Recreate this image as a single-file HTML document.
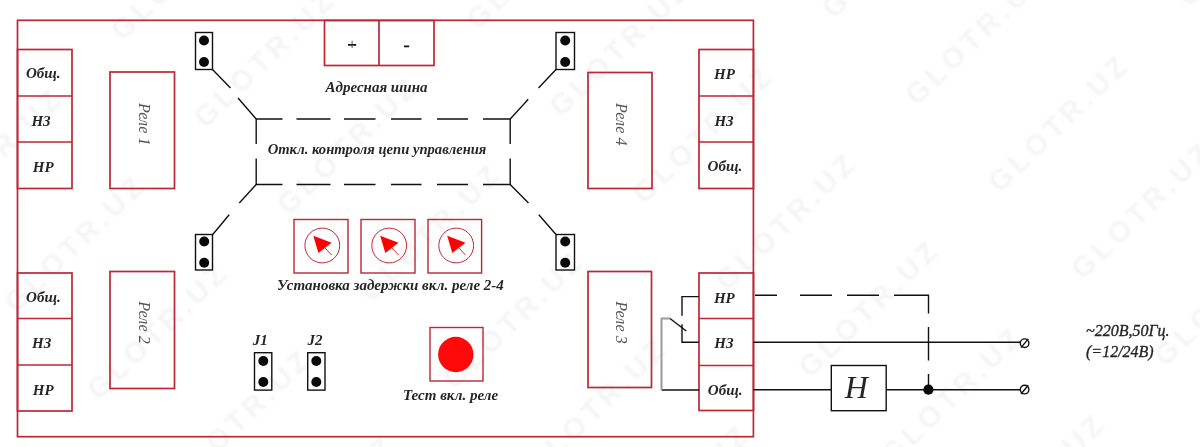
<!DOCTYPE html>
<html><head><meta charset="utf-8">
<style>
html,body{margin:0;padding:0;background:#fff;width:1200px;height:447px;overflow:hidden}
svg{display:block;filter:blur(0.45px)}
text{font-family:"Liberation Serif",serif;font-style:italic;fill:#262626}
.b{font-weight:bold}
.rl{fill:#555}
.wm text{font-family:"Liberation Sans",sans-serif;font-style:normal;font-weight:bold;font-size:29px;letter-spacing:4.5px;fill:#000;fill-opacity:0.045}
.r{fill:none;stroke:#bc2636;stroke-width:1.7}
.k{fill:none;stroke:#111;stroke-width:1.4}
</style></head><body>
<svg width="1200" height="447" viewBox="0 0 1200 447">
<defs><filter id="wb" x="-5%" y="-5%" width="110%" height="110%"><feGaussianBlur stdDeviation="0.8"/></filter></defs>
<g class="wm" filter="url(#wb)">
<text transform="translate(-149.2,125.0) rotate(-44)" x="-11.3" y="10.4">GLOTR.UZ</text>
<text transform="translate(123.4,26.8) rotate(-44)" x="-11.3" y="10.4">GLOTR.UZ</text>
<text transform="translate(-66.2,212.0) rotate(-44)" x="-11.3" y="10.4">GLOTR.UZ</text>
<text transform="translate(206.4,113.8) rotate(-44)" x="-11.3" y="10.4">GLOTR.UZ</text>
<text transform="translate(16.8,299.0) rotate(-44)" x="-11.3" y="10.4">GLOTR.UZ</text>
<text transform="translate(479.0,15.6) rotate(-44)" x="-11.3" y="10.4">GLOTR.UZ</text>
<text transform="translate(289.4,200.8) rotate(-44)" x="-11.3" y="10.4">GLOTR.UZ</text>
<text transform="translate(99.8,386.0) rotate(-44)" x="-11.3" y="10.4">GLOTR.UZ</text>
<text transform="translate(-89.8,571.2) rotate(-44)" x="-11.3" y="10.4">GLOTR.UZ</text>
<text transform="translate(562.0,102.6) rotate(-44)" x="-11.3" y="10.4">GLOTR.UZ</text>
<text transform="translate(372.4,287.8) rotate(-44)" x="-11.3" y="10.4">GLOTR.UZ</text>
<text transform="translate(182.8,473.0) rotate(-44)" x="-11.3" y="10.4">GLOTR.UZ</text>
<text transform="translate(834.6,4.4) rotate(-44)" x="-11.3" y="10.4">GLOTR.UZ</text>
<text transform="translate(645.0,189.6) rotate(-44)" x="-11.3" y="10.4">GLOTR.UZ</text>
<text transform="translate(455.4,374.8) rotate(-44)" x="-11.3" y="10.4">GLOTR.UZ</text>
<text transform="translate(265.8,560.0) rotate(-44)" x="-11.3" y="10.4">GLOTR.UZ</text>
<text transform="translate(917.6,91.4) rotate(-44)" x="-11.3" y="10.4">GLOTR.UZ</text>
<text transform="translate(728.0,276.6) rotate(-44)" x="-11.3" y="10.4">GLOTR.UZ</text>
<text transform="translate(538.4,461.8) rotate(-44)" x="-11.3" y="10.4">GLOTR.UZ</text>
<text transform="translate(1190.2,-6.8) rotate(-44)" x="-11.3" y="10.4">GLOTR.UZ</text>
<text transform="translate(1000.6,178.4) rotate(-44)" x="-11.3" y="10.4">GLOTR.UZ</text>
<text transform="translate(811.0,363.6) rotate(-44)" x="-11.3" y="10.4">GLOTR.UZ</text>
<text transform="translate(621.4,548.8) rotate(-44)" x="-11.3" y="10.4">GLOTR.UZ</text>
<text transform="translate(1083.6,265.4) rotate(-44)" x="-11.3" y="10.4">GLOTR.UZ</text>
<text transform="translate(894.0,450.6) rotate(-44)" x="-11.3" y="10.4">GLOTR.UZ</text>
<text transform="translate(1166.6,352.4) rotate(-44)" x="-11.3" y="10.4">GLOTR.UZ</text>
<text transform="translate(977.0,537.6) rotate(-44)" x="-11.3" y="10.4">GLOTR.UZ</text>
</g>
<!-- outer board -->
<rect class="r" x="17.5" y="20.3" width="735.9" height="416.4"/>
<!-- left terminals top -->
<rect class="r" x="17.5" y="49.5" width="54.5" height="139"/>
<line class="r" x1="17.5" y1="96" x2="72" y2="96"/>
<line class="r" x1="17.5" y1="142" x2="72" y2="142"/>
<!-- left terminals bottom -->
<rect class="r" x="17.5" y="273" width="54.5" height="138"/>
<line class="r" x1="17.5" y1="318.5" x2="72" y2="318.5"/>
<line class="r" x1="17.5" y1="365" x2="72" y2="365"/>
<!-- right terminals top -->
<rect class="r" x="699" y="49.5" width="54.5" height="139"/>
<line class="r" x1="699" y1="96" x2="753.5" y2="96"/>
<line class="r" x1="699" y1="142" x2="753.5" y2="142"/>
<!-- right terminals bottom -->
<rect class="r" x="699" y="273" width="54.5" height="137.5"/>
<line class="r" x1="699" y1="318.5" x2="753.5" y2="318.5"/>
<line class="r" x1="699" y1="365.5" x2="753.5" y2="365.5"/>
<!-- relays -->
<rect class="r" x="110" y="72" width="64.5" height="116.5"/>
<rect class="r" x="110" y="271.5" width="64.5" height="117"/>
<rect class="r" x="588" y="72.5" width="64" height="116"/>
<rect class="r" x="588" y="271.5" width="63.5" height="116"/>
<!-- +/- -->
<rect class="r" x="324.5" y="20.5" width="109.5" height="45"/>
<line class="r" x1="379" y1="20.5" x2="379" y2="65.5"/>
<!-- pots -->
<rect class="r" x="294" y="219.5" width="54" height="53.5" style="stroke-width:1.4"/>
<rect class="r" x="361" y="219.5" width="54" height="53.5" style="stroke-width:1.4"/>
<rect class="r" x="428" y="219.5" width="53.6" height="53.5" style="stroke-width:1.4"/>
<!-- test -->
<rect class="r" x="430" y="327.5" width="53" height="53.5" style="stroke-width:1.4"/>
<circle cx="455.8" cy="354.5" r="17.7" fill="#ff0a0a"/>
<!-- jumpers -->
<g class="k">
<rect x="195.5" y="32.5" width="17" height="37"/>
<rect x="556" y="32.5" width="18.5" height="37"/>
<rect x="195.5" y="234.5" width="17" height="35.5"/>
<rect x="556" y="234.5" width="18.5" height="35.5"/>
<rect x="254.5" y="352.7" width="17.3" height="37.4"/>
<rect x="307.7" y="352.7" width="17.3" height="37.4"/>
</g>
<g fill="#0a0a0a">
<circle cx="204" cy="40.5" r="5"/><circle cx="204" cy="62" r="5"/>
<circle cx="565.2" cy="40.5" r="5"/><circle cx="565.2" cy="62" r="5"/>
<circle cx="204.2" cy="241.5" r="5"/><circle cx="204.2" cy="262.8" r="5"/>
<circle cx="565.2" cy="241.5" r="5"/><circle cx="565.2" cy="262.8" r="5"/>
<circle cx="263.3" cy="361" r="5"/><circle cx="263.3" cy="382" r="5"/>
<circle cx="316.3" cy="361" r="5"/><circle cx="316.3" cy="382" r="5"/>
</g>
<!-- dashed control rect -->
<g class="k">
<path d="M256.2 144V119H282.5M296.5 119H330.5M344 119H375.5M391 119H421.5M437 119H468M483 119H510.2V144"/>
<path d="M256.2 158.5V184.5H282.5M296.5 184.5H330.5M344 184.5H375.5M391 184.5H421.5M437 184.5H468M483 184.5H510.2V158.5"/>
<path d="M212.5 69.5L230.5 88M238 98L256.2 119"/>
<path d="M556 69.5L538.5 88M528.2 99.3L510.2 119"/>
<path d="M212.7 234.5L229.2 214.7M239.3 203L256.2 184.5"/>
<path d="M556 234.5L538.8 214.7M528.5 203L510.2 184.5"/>
</g>
<!-- pots -->
<g>
<circle cx="322.3" cy="245.5" r="17.4" fill="none" stroke="#bc2636" stroke-width="1"/>
<circle cx="389.2" cy="245.5" r="17.4" fill="none" stroke="#bc2636" stroke-width="1"/>
<circle cx="456.2" cy="245.5" r="17.4" fill="none" stroke="#bc2636" stroke-width="1"/>
<g id="arr"><path d="M313.3 235.8L331.6 242.7L318.4 253.1Z" fill="#f00"/><path d="M325 248L331.6 255" stroke="#e02030" stroke-width="1"/></g>
<use href="#arr" x="66.9"/>
<use href="#arr" x="133.9"/>
</g>
<!-- relay contact wiring -->
<g class="k">
<path d="M699 296.6H682V315.8"/>
<path d="M699 342.2H682V324.2"/>
<path d="M670 318.5L686.3 331"/>
<path d="M699 390H661.5"/>
<path d="M753.5 342.2H1020"/>
<path d="M753.5 389.7H831.3M886.2 389.7H1020"/>
<rect x="831.3" y="365.5" width="54.9" height="45.2"/>
<path d="M755 295.2H777M800 295.2H832M847 295.2H879M894 295.2H928.5V313.6M928.5 327V360.6M928.5 374V390"/>
<circle cx="1024.6" cy="343.2" r="4.3"/>
<circle cx="1024.6" cy="389.6" r="4.3"/>
<path d="M1021 347.6L1028.3 338.9M1021 394L1028.3 385.3"/>
</g>
<path d="M661.5 390V318.5H670" fill="none" stroke="#999" stroke-width="2"/>
<circle cx="928.4" cy="389.7" r="5.1" fill="#0a0a0a"/>
<!-- texts -->
<g class="b" font-size="15">
<text x="25.9" y="78.3">Общ.</text>
<text x="31.4" y="126">НЗ</text>
<text x="32.75" y="171.7">НР</text>
<text x="26.1" y="302">Общ.</text>
<text x="32.0" y="348.3">НЗ</text>
<text x="32.75" y="394.9">НР</text>
<text x="714.0" y="78.8">НР</text>
<text x="714.45" y="125.8">НЗ</text>
<text x="707.6" y="171.4">Общ.</text>
<text x="713.95" y="302.9">НР</text>
<text x="714.25" y="348.4">НЗ</text>
<text x="707.85" y="395">Общ.</text>
<text x="325.5" y="92.4">Адресная шина</text>
<text x="277.0" y="290">Установка задержки вкл. реле 2-4</text>
<text x="403.0" y="399.5">Тест вкл. реле</text>
<text x="252.65" y="345">J1</text>
<text x="307.4" y="345">J2</text>
</g>
<text class="b" x="267.65" y="154.3" font-size="14.6">Откл. контроля цепи управления</text>
<text x="1086.05" y="335.6" font-size="16" stroke="#262626" stroke-width="0.35">~220В,50Гц.</text>
<text x="1086.0" y="356.8" font-size="16" stroke="#262626" stroke-width="0.35">(=12/24В)</text>
<g font-size="16">
<text class="rl" transform="translate(138.5,103) rotate(90)">Реле 1</text>
<text class="rl" transform="translate(138.5,301.3) rotate(90)">Реле 2</text>
<text class="rl" transform="translate(615.8,103) rotate(90)">Реле 4</text>
<text class="rl" transform="translate(615.8,301.3) rotate(90)">Реле 3</text>
</g>
<text x="844.8" y="398.3" font-size="32">H</text>
<path d="M348 44.8H356.2M404 46.3H409.2" stroke="#111" stroke-width="1.8"/>
<path d="M352.1 40.7V48" stroke="#555" stroke-width="1"/>
</svg>
</body></html>
